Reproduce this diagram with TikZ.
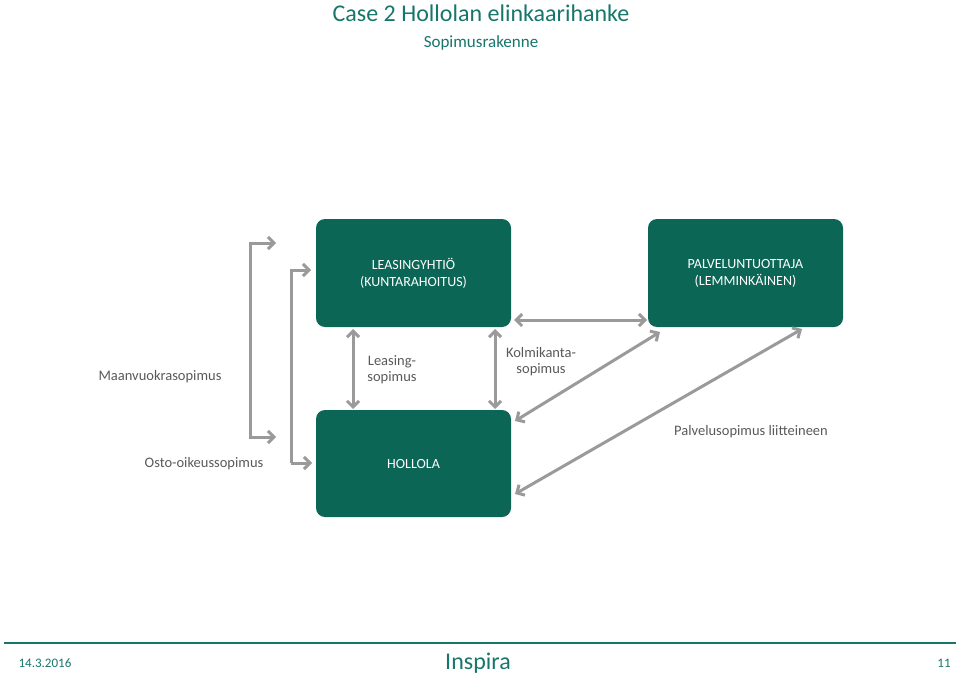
\documentclass[tikz,border=0pt]{standalone}
\usepackage{fontspec}
\setmainfont{Carlito}
\usetikzlibrary{arrows.meta}
\definecolor{dg}{HTML}{0B6655}
\definecolor{tt}{HTML}{17766B}
\definecolor{ag}{HTML}{9A9A9A}
\definecolor{lt}{HTML}{595959}
\begin{document}
\begin{tikzpicture}[x=1pt,y=-1pt,
 box/.style={fill=dg,rounded corners=9pt,text=white,font=\fontsize{14}{17}\selectfont,align=center},
 lbl/.style={text=lt,font=\fontsize{14.5}{16}\selectfont,align=center},
 con/.style={draw=ag,line width=3pt,{Straight Barb[length=6pt,width=12pt]}-{Straight Barb[length=6pt,width=12pt]}},
 con1/.style={draw=ag,line width=3pt,-{Straight Barb[length=6pt,width=12pt]}}]
\useasboundingbox (0,0) rectangle (960,679);
\node[text=tt,font=\fontsize{24}{28}\selectfont] (t) at (481,13) {Case 2 Hollolan elinkaarihanke};
\node[text=tt,font=\fontsize{17}{20}\selectfont] (st) at (481,43) {Sopimusrakenne};
\path[box] (316,219) rectangle (511,327);
\node[box,fill=none] (l) at (413.5,273) {LEASINGYHTIÖ\\(KUNTARAHOITUS)};
\path[box] (648,219) rectangle (843,327);
\node[box,fill=none] (p) at (745.5,273) {PALVELUNTUOTTAJA\\(LEMMINKÄINEN)};
\path[box] (316,410) rectangle (511,517);
\node[box,fill=none] (h) at (413.5,464) {HOLLOLA};
\coordinate (a1) at (276,243); \coordinate (a2) at (276,437);
\draw[con] (a1) -- (250,243) -- (250,437) -- (a2);
\coordinate (b1) at (311,270); \coordinate (b2) at (312,463);
\draw[con1] (291,463) -- (291,270) -- (b1);
\draw[con1] (291,463) -- (b2);
\coordinate (c1) at (353,329); \coordinate (c2) at (353,409);
\draw[con] (c1) -- (c2);
\coordinate (d1) at (495,329); \coordinate (d2) at (495,409);
\draw[con] (d1) -- (d2);
\coordinate (e1) at (514,320); \coordinate (e2) at (647,320);
\draw[con] (e1) -- (e2);
\coordinate (f1) at (660,332); \coordinate (f2) at (515,421);
\draw[con] (f1) -- (f2);
\coordinate (g1) at (802,329); \coordinate (g2) at (515,494);
\draw[con] (g1) -- (g2);
\node[lbl] (m) at (160,377) {Maanvuokrasopimus};
\node[lbl] (o) at (204,464) {Osto-oikeussopimus};
\node[lbl] (ls) at (392,370) {Leasing-\\sopimus};
\node[lbl] (ks) at (541,362) {Kolmikanta-\\sopimus};
\node[lbl] (ps) at (751,432) {Palvelusopimus liitteineen};
\draw[tt,line width=2pt] (4,643) -- (956,643);
\node[text=tt,font=\fontsize{13}{15}\selectfont] (d) at (45,663) {14.3.2016};
\node[text=tt,font=\fontsize{13}{15}\selectfont] (n) at (944,663) {11};
\node[text=tt,font=\fontsize{24}{26}\selectfont] (i) at (478,663) {Inspira};
\end{tikzpicture}
\end{document}
